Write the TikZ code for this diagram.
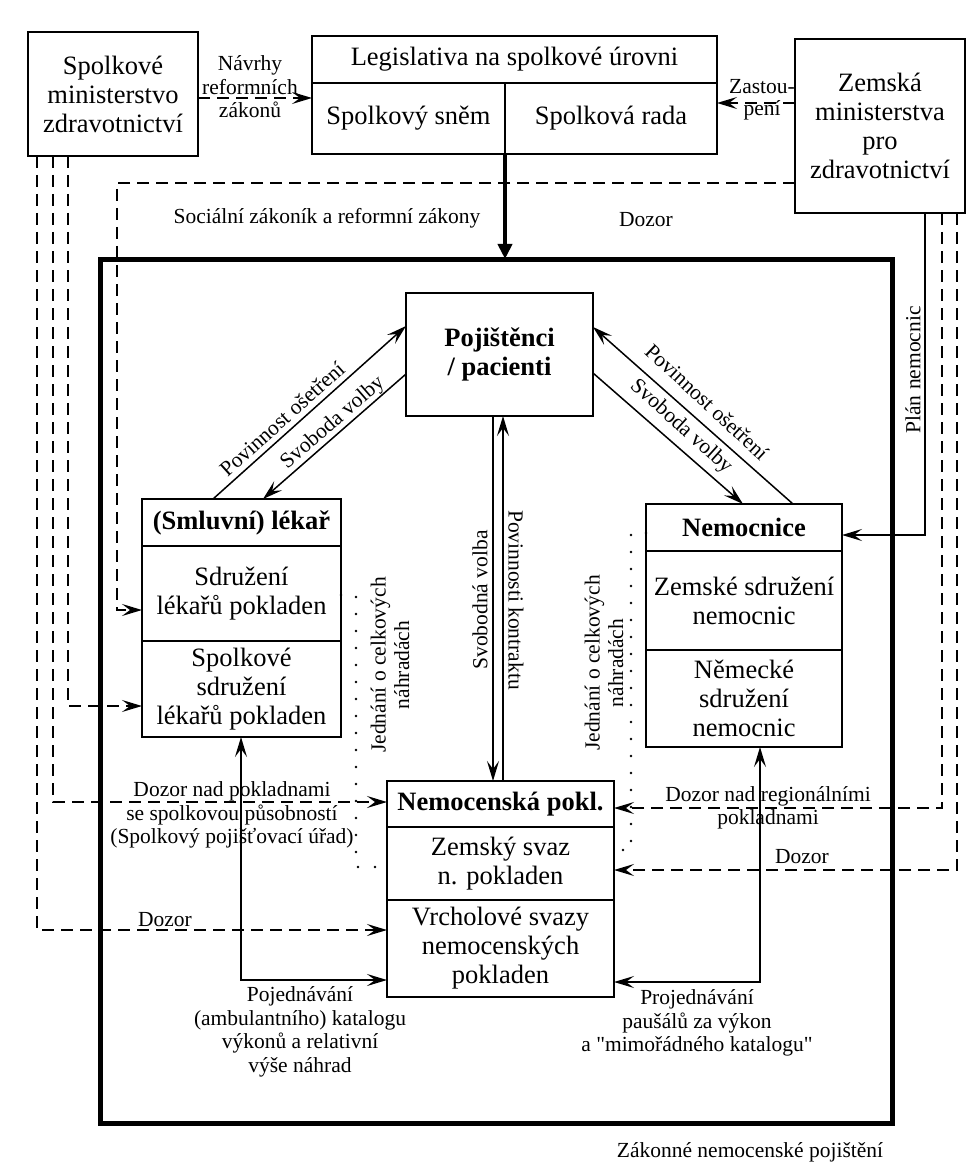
\documentclass[tikz,border=0pt]{standalone}
\usepackage{fontspec}
\setmainfont{Liberation Serif}
\usetikzlibrary{arrows.meta,calc}
\newcommand{\mainsz}{\fontsize{26.5}{29}\selectfont}
\newcommand{\lblsz}{\fontsize{21.5}{23.5}\selectfont}
\begin{document}
\begin{tikzpicture}[x=1pt,y=-1pt,
  box/.style={draw, line width=1.6pt, inner sep=0pt, outer sep=0pt, align=center, font=\mainsz, anchor=north west},
  bbox/.style={box, font=\mainsz\bfseries},
  lbl/.style={inner sep=0pt, align=center, font=\lblsz},
  conn/.style={line width=1.5pt},
  dsh/.style={conn, dash pattern=on 12pt off 7pt},
  dots/.style={line width=2.6pt, line cap=round, dash pattern=on 0pt off 17pt},
  tip/.style={-{Stealth[length=20pt,width=12pt,inset=8pt]}},
  tiptwo/.style={{Stealth[length=20pt,width=12pt,inset=8pt]}-{Stealth[length=20pt,width=12pt,inset=8pt]}}
]
\useasboundingbox (0,0) rectangle (972,1166);
\fill[white] (0,0) rectangle (972,1166);

% top boxes
\node[box, minimum width=170pt, minimum height=124pt] (bmin) at (28,32) {Spolkové\\ministerstvo\\zdravotnictví};
\node[box, minimum width=405pt, minimum height=47pt] (leg) at (312,36) {Legislativa na spolkové úrovni};
\node[box, minimum width=193pt, minimum height=71pt] (snem) at (312,83) {Spolkový sněm};
\node[box, minimum width=212pt, minimum height=71pt] (rada) at (505,83) {Spolková rada};
\node[box, minimum width=170pt, minimum height=174pt] (zem) at (795,39) {Zemská\\ministerstva\\pro\\zdravotnictví};

% frame
\node[draw, line width=5pt, inner sep=0pt, outer sep=0pt, minimum width=792pt, minimum height=864pt, anchor=north west] (frame) at (100,259) {};

% inner boxes
\node[bbox, minimum width=187pt, minimum height=123pt] (poj) at (406,293) {Pojištěnci\\/ pacienti};

\node[bbox, minimum width=199pt, minimum height=47pt] (lek) at (142,499) {(Smluvní) lékař};
\node[box, minimum width=199pt, minimum height=95pt] (sdr) at (142,546) {Sdružení\\lékařů pokladen};
\node[box, minimum width=199pt, minimum height=96pt] (ssdr) at (142,641) {Spolkové\\sdružení\\lékařů pokladen};

\node[bbox, minimum width=196pt, minimum height=47pt] (nem) at (646,504) {Nemocnice};
\node[box, minimum width=196pt, minimum height=99pt] (zsn) at (646,551) {Zemské sdružení\\nemocnic};
\node[box, minimum width=196pt, minimum height=97pt] (nsn) at (646,650) {Německé\\sdružení\\nemocnic};

\node[bbox, minimum width=227pt, minimum height=46pt] (pokl) at (387,781) {Nemocenská pokl.};
\node[box, minimum width=227pt, minimum height=73pt] (zsv) at (387,827) {Zemský svaz\\n. pokladen};
\node[box, minimum width=227pt, minimum height=97pt] (vrch) at (387,900) {Vrcholové svazy\\nemocenských\\pokladen};

% top connectors
\draw[dsh,tip] (bmin.east |- 0,98) -- (snem.west |- 0,98);
\node[lbl] (lnavrh) at (250,87) {Návrhy\\reformních\\zákonů};
\draw[dsh,tip] (zem.west |- 0,103) -- (rada.east |- 0,103);
\node[lbl] (lzast1) at (762,87) {Zastou-};
\node[lbl] (lzast2) at (762,110) {pení};

\draw[line width=4pt, -{Triangle[length=15pt,width=14pt]}] (snem.south east) -- (snem.south east |- frame.north);
\node[lbl] (lsoc) at (327,218) {Sociální zákoník a reformní zákony};

\draw[dsh,tip] (zem.west |- 0,183) -| (117,610) -- (sdr.west |- 0,610);
\node[lbl] (ldoz1) at (646,220) {Dozor};

% left dashed supervision
\draw[dsh,tip] (bmin.south -| 68,0) -- (68,706) -- (ssdr.west |- 0,706);
\draw[dsh,tip] (bmin.south -| 53,0) -- (53,802) -- (pokl.west |- 0,802);
\node[lbl] (ldozsp) at (232,815) {Dozor nad pokladnami\\se spolkovou působností\\(Spolkový pojišťovací úřad)};
\draw[dsh,tip] (bmin.south -| 37,0) -- (37,930) -- (vrch.west |- 0,930);
\node[lbl] (ldoz2) at (165,920) {Dozor};

% right side
\draw[conn,tip] (zem.south -| 925,0) -- (925,535) -- (nem.east |- 0,535);
\node[lbl, rotate=90] (lplan) at (913,370) {Plán nemocnic};
\draw[dsh,tip] (zem.south -| 942,0) -- (942,808) -- (pokl.east |- 0,808);
\node[lbl] (ldozreg) at (768,808) {Dozor nad regionálními\\pokladnami};
\draw[dsh,tip] (zem.south -| 957,0) -- (957,870) -- (zsv.east |- 0,870);
\node[lbl] (ldoz3) at (802,857) {Dozor};

% diagonals
\draw[conn,tip] ([xshift=71pt]lek.north west) -- (poj.west |- 0,326);
\node[lbl, rotate=42] (lpovl) at (282,419) {Povinnost ošetření};
\draw[conn,tip] (poj.west |- 0,374) -- ([xshift=121pt]lek.north west);
\node[lbl, rotate=41] (lsvol) at (333,423) {Svoboda volby};
\draw[conn,tip] ([xshift=147pt]nem.north west) -- (poj.east |- 0,327);
\node[lbl, rotate=-43] (lpovr) at (707,402) {Povinnost ošetření};
\draw[conn,tip] (poj.east |- 0,373) -- ([xshift=97pt]nem.north west);
\node[lbl, rotate=-42] (lsvor) at (681,427) {Svoboda volby};

% verticals
\draw[conn,tip] (poj.south -| 493,0) -- (pokl.north -| 493,0);
\node[lbl, rotate=90] (lsvob) at (480,600) {Svobodná volba};
\draw[conn,tip] (pokl.north -| 503,0) -- (poj.south -| 503,0);
\node[lbl, rotate=-90] (lpovk) at (516,600) {Povinnosti kontraktu};

% dotted negotiations
\draw[dots] (sdr.east |- 0,595) -- (356,595) -- (356,867) -- (zsv.west |- 0,867);
\node[lbl, rotate=90] (ljedl) at (390,665) {Jednání o celkových\\náhradách};
\draw[dots] (nem.west |- 0,533) -- (631,533) -- (631,850) -- (zsv.east |- 0,850);
\node[lbl, rotate=90] (ljedr) at (604,663) {Jednání o celkových\\náhradách};

% bottom negotiations
\draw[conn,tiptwo] (vrch.west |- 0,980) -| (ssdr.south -| 241,0);
\node[lbl] (lpojed) at (300,1032) {Pojednávání\\(ambulantního) katalogu\\výkonů a relativní\\výše náhrad};
\draw[conn,tiptwo] (nsn.south -| 760,0) |- (vrch.east |- 0,982);
\node[lbl] (lprojed) at (697,1023) {Projednávání\\paušálů za výkon\\a \textquotedbl mimořádného katalogu\textquotedbl};

\node[lbl] (lcap) at (750,1152) {Zákonné nemocenské pojištění};
\end{tikzpicture}
\end{document}
